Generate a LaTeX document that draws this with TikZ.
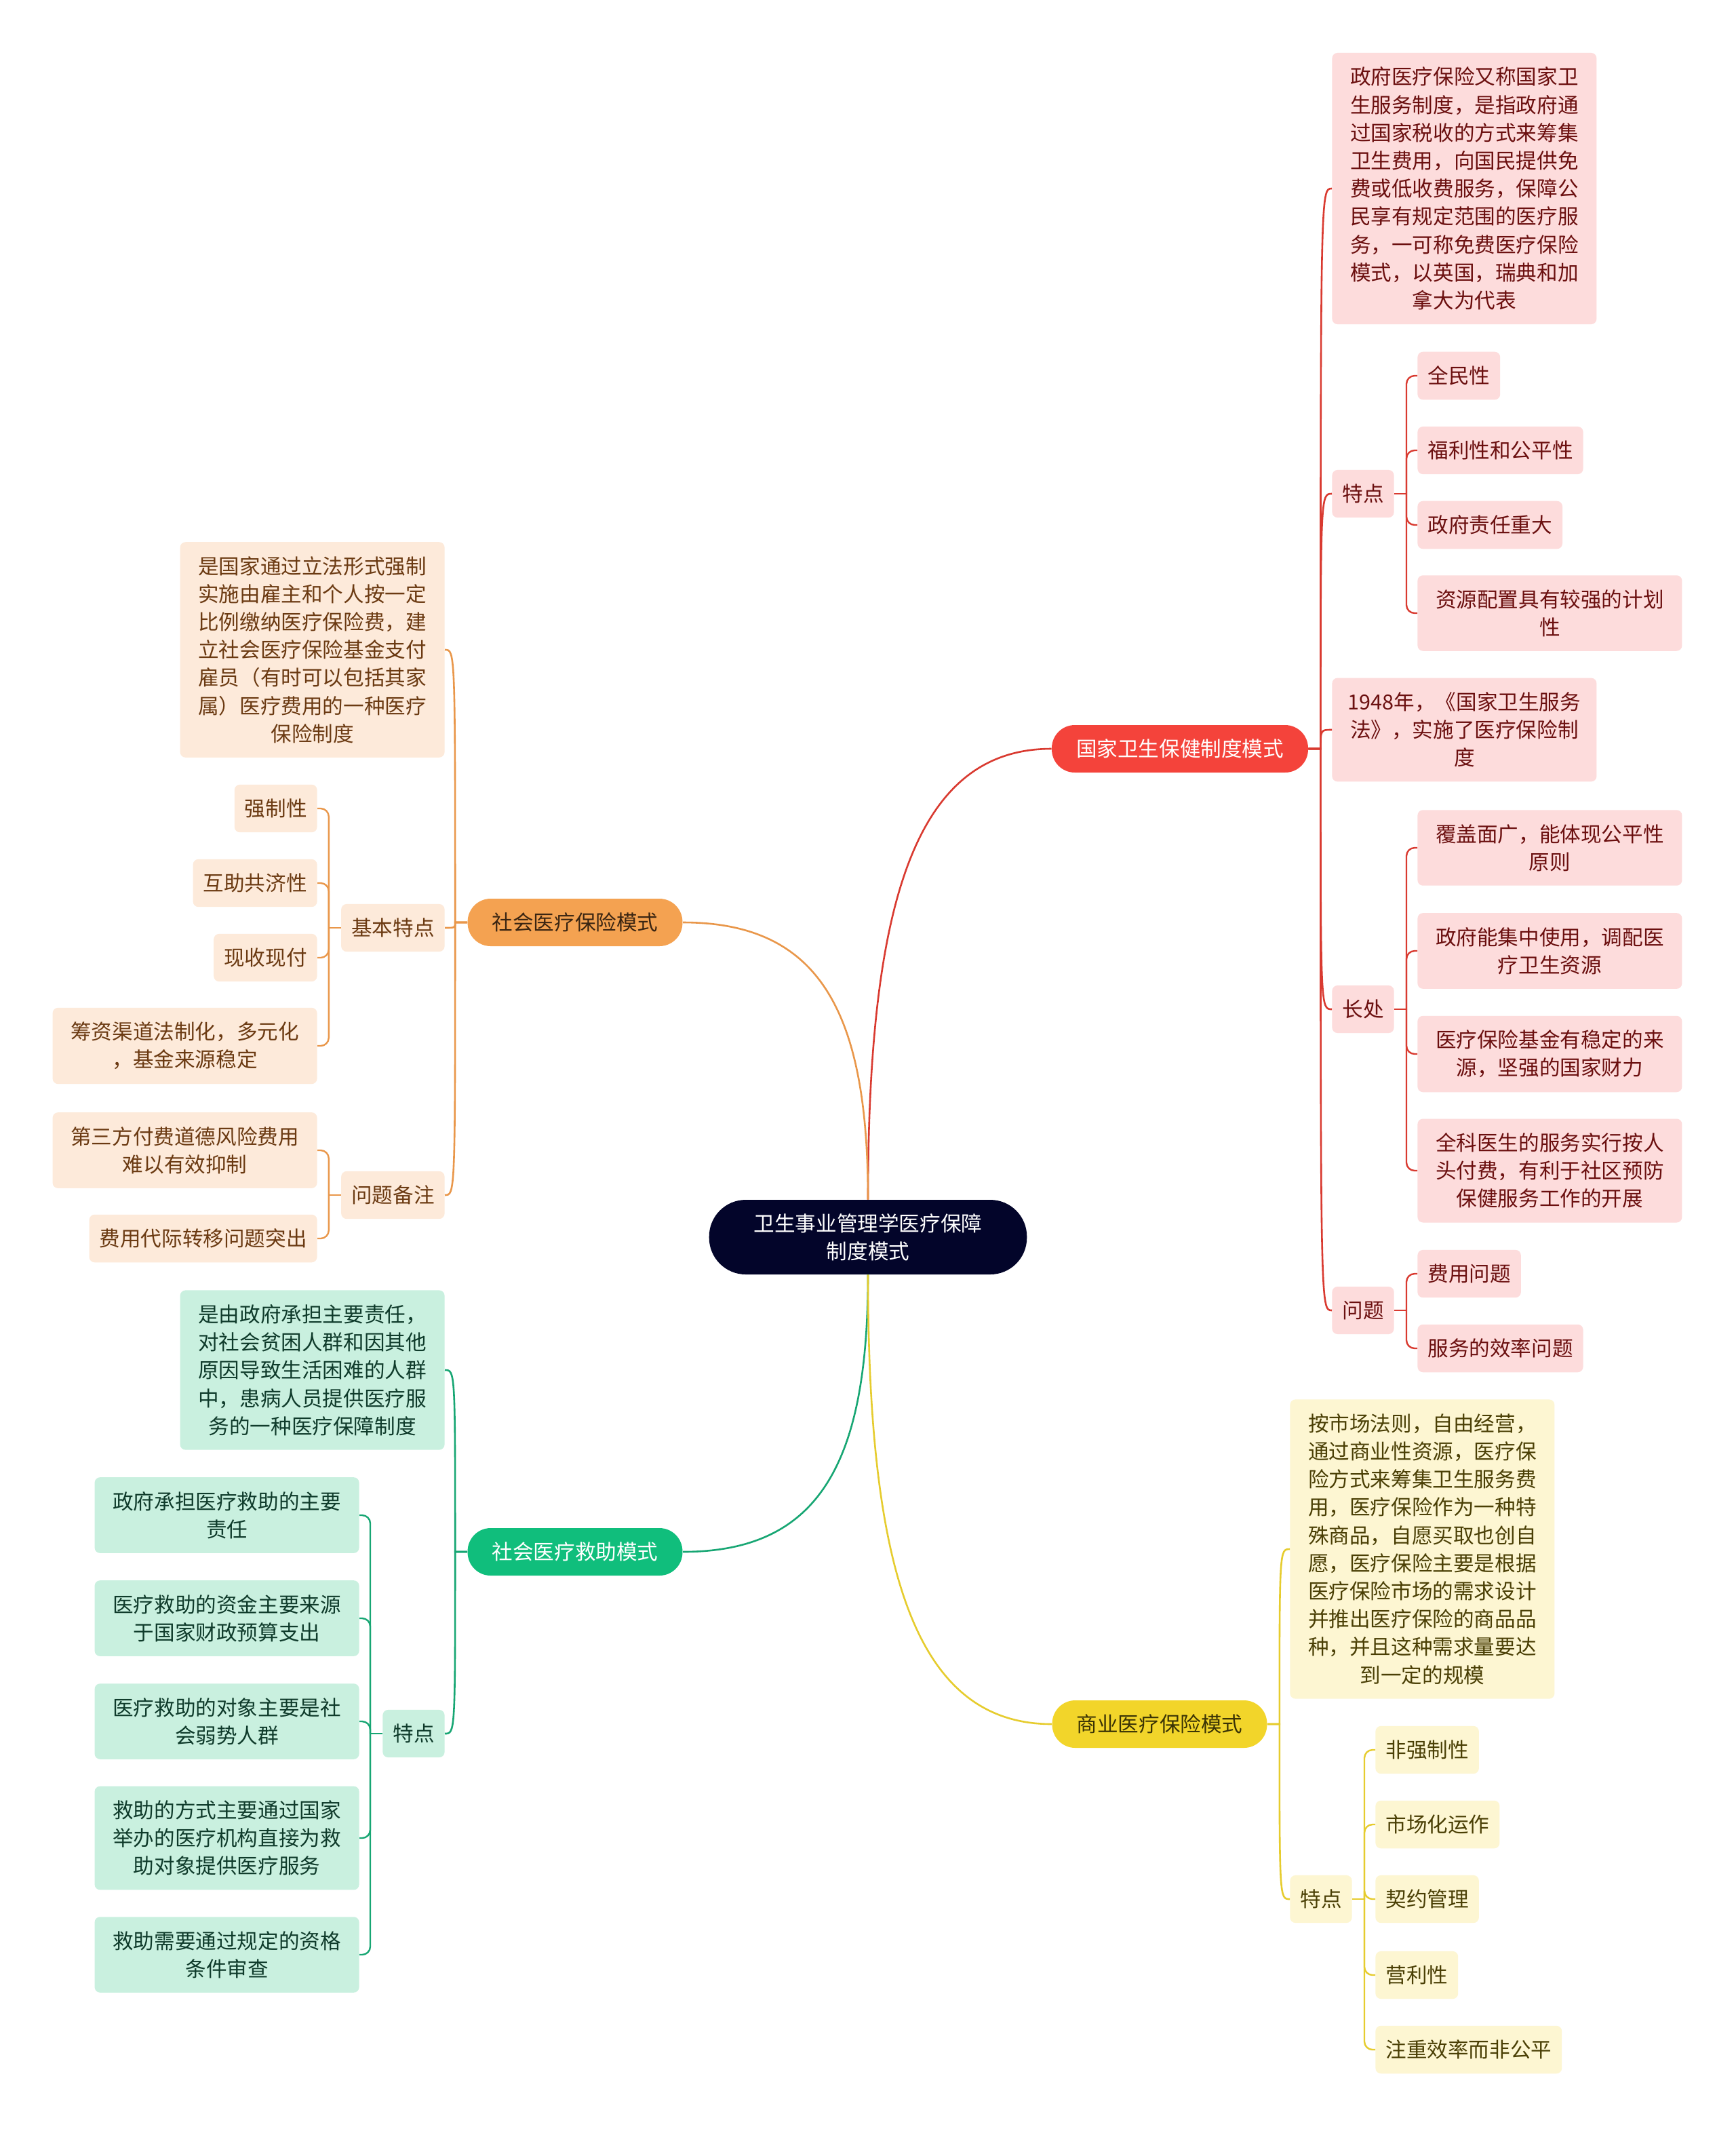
\documentclass[tikz,border=0pt]{standalone}
\usepackage{fontspec}
\setmainfont{Noto Sans CJK SC}
\definecolor{rootc}{HTML}{03052A}
\definecolor{redc}{HTML}{F4433B}
\definecolor{redln}{HTML}{D93A30}
\definecolor{redbg}{HTML}{FDDCDC}
\definecolor{redtx}{HTML}{6B0F0F}
\definecolor{orac}{HTML}{F4A251}
\definecolor{oraln}{HTML}{E9974A}
\definecolor{orabg}{HTML}{FDEADA}
\definecolor{oratx}{HTML}{6B3A12}
\definecolor{oratop}{HTML}{3A2512}
\definecolor{grnc}{HTML}{10BE7C}
\definecolor{grnln}{HTML}{17A673}
\definecolor{grnbg}{HTML}{C9F0DF}
\definecolor{grntx}{HTML}{0F3B2B}
\definecolor{yelc}{HTML}{F2D52A}
\definecolor{yelln}{HTML}{E6CC2E}
\definecolor{yelbg}{HTML}{FDF6D2}
\definecolor{yeltx}{HTML}{4A3F05}
\definecolor{yeltop}{HTML}{3A3305}
\begin{document}
\begin{tikzpicture}[x=1pt, y=-1pt,
    every node/.style={font=\fontsize{15.3}{20.6}\selectfont, align=center},
    topic/.style={fill=#1c, rounded corners=17pt, inner xsep=18pt, minimum height=35pt},
    leaf/.style={fill=#1bg, text=#1tx, rounded corners=4pt, inner xsep=7.5pt, inner ysep=10.5pt, minimum height=35pt},
    wide/.style={minimum width=195pt},
    branch/.style={draw=#1ln, line width=1.3pt},
    twig/.style={draw=#1ln, line width=1.2pt, rounded corners=6pt}]
    \fill[white] (0,0) rectangle (1280,1569.5);

    % Root and main topics
    \node[topic=root, text=white, rounded corners=27pt, inner xsep=33pt, minimum height=55pt] (root) at (640,912) {卫生事业管理学医疗保障\\制度模式};
    \node[topic=red, text=white] (natl) at (870,552) {国家卫生保健制度模式};
    \node[topic=ora, text=oratop] (social) at (424,680) {社会医疗保险模式};
    \node[topic=grn, text=white] (aid) at (424,1144) {社会医疗救助模式};
    \node[topic=yel, text=yeltop] (comm) at (855,1271) {商业医疗保险模式};

    \draw[branch=red] (root.north) .. controls +(0,-220) and +(-100,0) .. (natl.west);
    \draw[branch=ora] (root.north) .. controls +(0,-140) and +(100,0) .. (social.east);
    \draw[branch=grn] (root.south) .. controls +(0,140) and +(100,0) .. (aid.east);
    \draw[branch=yel] (root.south) .. controls +(0,220) and +(-100,0) .. (comm.west);

    % 国家卫生保健制度模式
    \node[leaf=red, wide, anchor=west] (natlDef) at (982,139) {政府医疗保险又称国家卫\\生服务制度，是指政府通\\过国家税收的方式来筹集\\卫生费用，向国民提供免\\费或低收费服务，保障公\\民享有规定范围的医疗服\\务，一可称免费医疗保险\\模式，以英国，瑞典和加\\拿大为代表};
    \node[leaf=red, anchor=west] (natlFeat) at (982,364) {特点};
    \node[leaf=red, wide, anchor=west] (natlLaw) at (982,538) {1948年，《国家卫生服务\\法》，实施了医疗保险制\\度};
    \node[leaf=red, anchor=west] (natlPro) at (982,744) {长处};
    \node[leaf=red, anchor=west] (natlIss) at (982,966) {问题};
    \node[leaf=red, anchor=west] (natlF1) at (1045,277) {全民性};
    \node[leaf=red, anchor=west] (natlF2) at (1045,332) {福利性和公平性};
    \node[leaf=red, anchor=west] (natlF3) at (1045,387) {政府责任重大};
    \node[leaf=red, wide, anchor=west] (natlF4) at (1045,452) {资源配置具有较强的计划\\性};
    \node[leaf=red, wide, anchor=west] (natlP1) at (1045,625) {覆盖面广，能体现公平性\\原则};
    \node[leaf=red, wide, anchor=west] (natlP2) at (1045,701) {政府能集中使用，调配医\\疗卫生资源};
    \node[leaf=red, wide, anchor=west] (natlP3) at (1045,777) {医疗保险基金有稳定的来\\源，坚强的国家财力};
    \node[leaf=red, wide, anchor=west] (natlP4) at (1045,863) {全科医生的服务实行按人\\头付费，有利于社区预防\\保健服务工作的开展};
    \node[leaf=red, anchor=west] (natlI1) at (1045,939) {费用问题};
    \node[leaf=red, anchor=west] (natlI2) at (1045,994) {服务的效率问题};

    \coordinate (natlsp) at ([xshift=9pt]natl.east);
    \foreach \nm in {natlDef, natlFeat, natlLaw, natlPro, natlIss}
        \draw[branch=red] (natl.east) -- (natlsp) .. controls (natlsp |- \nm.west) .. (\nm.west);
    \foreach \p/\kids in {natlFeat/{natlF1,natlF2,natlF3,natlF4}, natlPro/{natlP1,natlP2,natlP3,natlP4}, natlIss/{natlI1,natlI2}} {
        \draw[twig=red] (\p.east) -- ++(9,0);
        \foreach \k in \kids
            \draw[twig=red] ([xshift=9pt]\p.east) |- (\k.west);
    }

    % 社会医疗保险模式
    \node[leaf=ora, wide, anchor=east] (socDef) at (328,479) {是国家通过立法形式强制\\实施由雇主和个人按一定\\比例缴纳医疗保险费，建\\立社会医疗保险基金支付\\雇员（有时可以包括其家\\属）医疗费用的一种医疗\\保险制度};
    \node[leaf=ora, anchor=east] (socFeat) at (328,684) {基本特点};
    \node[leaf=ora, anchor=east] (socNote) at (328,881) {问题备注};
    \node[leaf=ora, anchor=east] (socF1) at (234,596) {强制性};
    \node[leaf=ora, anchor=east] (socF2) at (234,651) {互助共济性};
    \node[leaf=ora, anchor=east] (socF3) at (234,706) {现收现付};
    \node[leaf=ora, wide, anchor=east] (socF4) at (234,771) {筹资渠道法制化，多元化\\，基金来源稳定};
    \node[leaf=ora, wide, anchor=east] (socN1) at (234,848) {第三方付费道德风险费用\\难以有效抑制};
    \node[leaf=ora, anchor=east] (socN2) at (234,913) {费用代际转移问题突出};

    \coordinate (socsp) at ([xshift=-9pt]social.west);
    \foreach \nm in {socDef, socFeat, socNote}
        \draw[branch=ora] (social.west) -- (socsp) .. controls (socsp |- \nm.east) .. (\nm.east);
    \foreach \p/\kids in {socFeat/{socF1,socF2,socF3,socF4}, socNote/{socN1,socN2}} {
        \draw[twig=ora] (\p.west) -- ++(-9,0);
        \foreach \k in \kids
            \draw[twig=ora] ([xshift=-9pt]\p.west) |- (\k.east);
    }

    % 社会医疗救助模式
    \node[leaf=grn, wide, anchor=east] (aidDef) at (328,1010) {是由政府承担主要责任，\\对社会贫困人群和因其他\\原因导致生活困难的人群\\中，患病人员提供医疗服\\务的一种医疗保障制度};
    \node[leaf=grn, anchor=east] (aidFeat) at (328,1278) {特点};
    \node[leaf=grn, wide, anchor=east] (aidF1) at (265,1117) {政府承担医疗救助的主要\\责任};
    \node[leaf=grn, wide, anchor=east] (aidF2) at (265,1193) {医疗救助的资金主要来源\\于国家财政预算支出};
    \node[leaf=grn, wide, anchor=east] (aidF3) at (265,1269) {医疗救助的对象主要是社\\会弱势人群};
    \node[leaf=grn, wide, anchor=east] (aidF4) at (265,1355) {救助的方式主要通过国家\\举办的医疗机构直接为救\\助对象提供医疗服务};
    \node[leaf=grn, wide, anchor=east] (aidF5) at (265,1441) {救助需要通过规定的资格\\条件审查};

    \coordinate (aidsp) at ([xshift=-9pt]aid.west);
    \foreach \nm in {aidDef, aidFeat}
        \draw[branch=grn] (aid.west) -- (aidsp) .. controls (aidsp |- \nm.east) .. (\nm.east);
    \draw[twig=grn] (aidFeat.west) -- ++(-9,0);
    \foreach \k in {aidF1,aidF2,aidF3,aidF4,aidF5}
        \draw[twig=grn] ([xshift=-9pt]aidFeat.west) |- (\k.east);

    % 商业医疗保险模式
    \node[leaf=yel, wide, anchor=west] (commDef) at (951,1142) {按市场法则，自由经营，\\通过商业性资源，医疗保\\险方式来筹集卫生服务费\\用，医疗保险作为一种特\\殊商品，自愿买取也创自\\愿，医疗保险主要是根据\\医疗保险市场的需求设计\\并推出医疗保险的商品品\\种，并且这种需求量要达\\到一定的规模};
    \node[leaf=yel, anchor=west] (commFeat) at (951,1400) {特点};
    \node[leaf=yel, anchor=west] (commF1) at (1014,1290) {非强制性};
    \node[leaf=yel, anchor=west] (commF2) at (1014,1345) {市场化运作};
    \node[leaf=yel, anchor=west] (commF3) at (1014,1400) {契约管理};
    \node[leaf=yel, anchor=west] (commF4) at (1014,1456) {营利性};
    \node[leaf=yel, anchor=west] (commF5) at (1014,1511) {注重效率而非公平};

    \coordinate (commsp) at ([xshift=9pt]comm.east);
    \foreach \nm in {commDef, commFeat}
        \draw[branch=yel] (comm.east) -- (commsp) .. controls (commsp |- \nm.west) .. (\nm.west);
    \draw[twig=yel] (commFeat.east) -- ++(9,0);
    \foreach \k in {commF1,commF2,commF3,commF4,commF5}
        \draw[twig=yel] ([xshift=9pt]commFeat.east) |- (\k.west);
\end{tikzpicture}
\end{document}
